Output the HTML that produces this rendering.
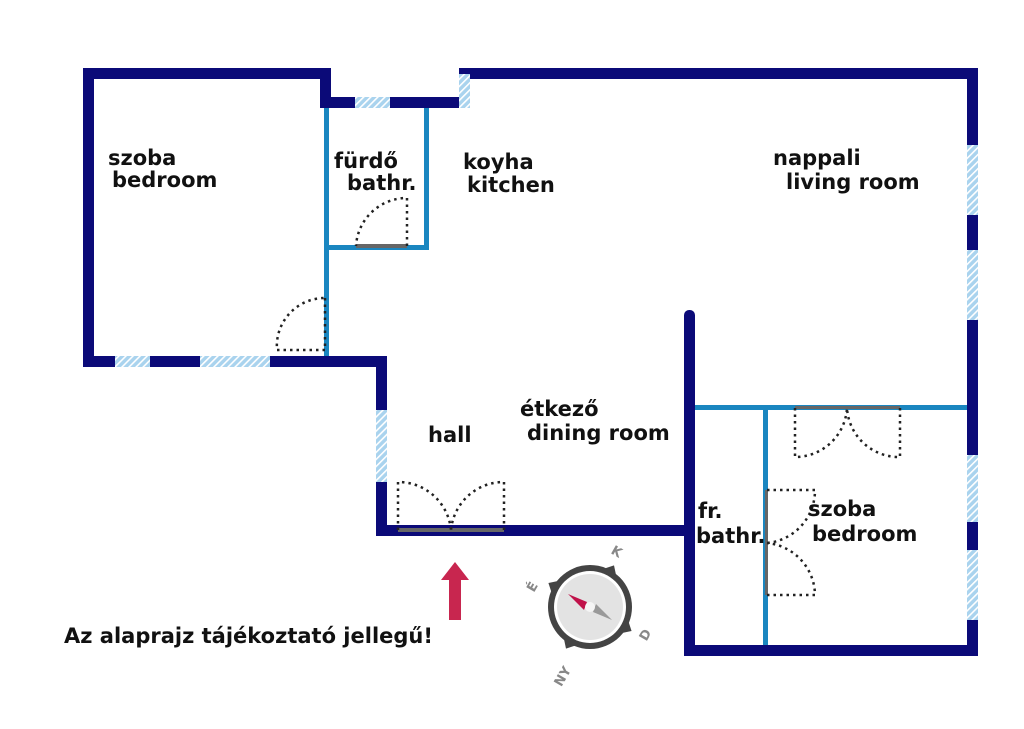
<!DOCTYPE html>
<html><head><meta charset="utf-8"><style>
body{margin:0;background:#fff}
svg{display:block}
text{font-family:"DejaVu Sans","Liberation Sans",sans-serif;font-weight:bold;font-size:21px;fill:#111}
</style></head><body>
<svg width="1024" height="729" viewBox="0 0 1024 729">
<defs>
<pattern id="h" width="5" height="5" patternUnits="userSpaceOnUse" patternTransform="rotate(45)">
<rect width="5" height="5" fill="#a9d3ee"/><rect width="1.6" height="5" fill="#fff"/>
</pattern>
</defs>
<g fill="#0b0a78">
<rect x="83" y="68" width="248" height="11"/>
<rect x="83" y="68" width="11" height="299"/>
<rect x="320" y="68" width="11" height="40"/>
<rect x="320" y="97" width="150" height="11"/>
<rect x="459" y="68" width="519" height="11"/>
<rect x="459" y="68" width="11" height="40"/>
<rect x="967" y="68" width="11" height="588"/>
<rect x="684" y="645" width="294" height="11"/>
<rect x="684" y="310" width="11" height="346" rx="5"/>
<rect x="376" y="525" width="308" height="11"/>
<circle cx="680" cy="530.5" r="5.5"/>
<rect x="376" y="356" width="11" height="180"/>
<rect x="83" y="356" width="304" height="11"/>
</g>
<g fill="url(#h)">
<rect x="355" y="97" width="35" height="11"/>
<rect x="459" y="74" width="11" height="34"/>
<rect x="967" y="145" width="11" height="70"/>
<rect x="967" y="250" width="11" height="70"/>
<rect x="967" y="455" width="11" height="67"/>
<rect x="967" y="550" width="11" height="70"/>
<rect x="115" y="356" width="35" height="11"/>
<rect x="200" y="356" width="70" height="11"/>
<rect x="376" y="410" width="11" height="72"/>
</g>
<g fill="#1a86c0">
<rect x="324" y="108" width="5" height="248"/>
<rect x="424" y="108" width="5" height="142"/>
<rect x="324" y="245" width="105" height="5"/>
<rect x="695" y="405" width="272" height="5"/>
<rect x="763" y="410" width="5" height="235"/>
</g>
<g fill="#666">
<rect x="356" y="244" width="51" height="4"/>
<rect x="795" y="406" width="105" height="3"/>
<rect x="765" y="490" width="3" height="105"/>
<rect x="398" y="528" width="106" height="4"/>
</g>
<g fill="none" stroke="#222" stroke-width="2.5" stroke-dasharray="2.5 4">
<path d="M325 298 V350 H277 A48 48 0 0 1 325 298"/>
<path d="M407 246 V198 A51 51 0 0 0 356 246"/>
<path d="M398 530 V482 A53 53 0 0 1 451 530"/>
<path d="M504 530 V482 A53 53 0 0 0 451 530"/>
<path d="M795 408 V457 A52 52 0 0 0 847 408"/>
<path d="M900 408 V457 A52 52 0 0 1 847 408"/>
<path d="M767 490 H815 A53 53 0 0 1 767 543"/>
<path d="M767 595 H815 A53 53 0 0 0 767 543"/>
</g>
<text x="108" y="165">szoba</text><text x="112" y="187">bedroom</text>
<text x="334" y="168">fürdő</text><text x="347" y="190">bathr.</text>
<text x="463" y="169">koyha</text><text x="467" y="192">kitchen</text>
<text x="773" y="165">nappali</text><text x="786" y="189">living room</text>
<text x="520" y="416">étkező</text><text x="527" y="440">dining room</text>
<text x="428" y="442">hall</text>
<text x="698" y="518">fr.</text><text x="696" y="543">bathr.</text>
<text x="808" y="516">szoba</text><text x="812" y="541">bedroom</text>
<text x="64" y="643" style="font-size:21px">Az alaprajz tájékoztató jellegű!</text>
<path d="M455 562 L441 580 H449 V620 H461 V580 H469 Z" fill="#c8264f"/>
<g transform="translate(590,607)">
<polygon points="0,-48 9,-38 -9,-38" fill="#444" transform="rotate(30)"/>
<polygon points="0,-48 9,-38 -9,-38" fill="#444" transform="rotate(120)"/>
<polygon points="0,-48 9,-38 -9,-38" fill="#444" transform="rotate(210)"/>
<polygon points="0,-48 9,-38 -9,-38" fill="#444" transform="rotate(300)"/>
<circle r="42" fill="#444"/>
<circle r="36" fill="#fff"/>
<circle r="33" fill="#e3e3e3"/>
<polygon points="-22,-13 -3,-5 -6,3" fill="#c0124a"/>
<polygon points="22,13 3,5 6,-3" fill="#999"/>
<circle r="5" fill="#f5f5f5"/>
</g>
<text x="612" y="556" transform="rotate(30 617 551)" style="font-size:13px;fill:#888">K</text>
<text x="527" y="591" transform="rotate(-60 532 586)" style="font-size:13px;fill:#888">É</text>
<text x="639" y="639" transform="rotate(-60 645 634)" style="font-size:13px;fill:#888">D</text>
<text x="549" y="684" transform="rotate(-60 558 675)" style="font-size:13px;fill:#888">NY</text>
</svg>
</body></html>
